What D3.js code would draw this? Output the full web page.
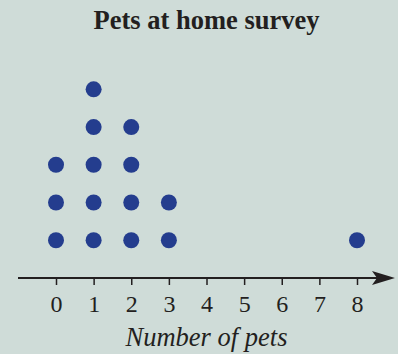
<!DOCTYPE html>
<html><head><meta charset="utf-8">
<script src="https://cdn.jsdelivr.net/npm/d3@7"></script>
<style>
html,body{margin:0;padding:0;background:#cfdcd8;}
svg{display:block;}
text{font-family:'Liberation Serif','Times New Roman',Times,serif;}
</style></head>
<body>
<script>
const title = "Pets at home survey";
const axisTitle = "Number of pets";
const petValues = [0,1,2,3,4,5,6,7,8];
const counts = [3,5,4,2,0,0,0,0,1];

const W = 398, H = 354;
const serif = "'Liberation Serif','Times New Roman',Times,serif";
const svg = d3.select("body").append("svg").attr("width", W).attr("height", H);
svg.append("rect").attr("width", W).attr("height", H).attr("fill", "#cfdcd8");

const x = d3.scaleLinear().domain([0, 8]).range([56, 357]);
const y = d3.scaleLinear().domain([0, 5]).range([278, 89.3]);
const ink = "#231f20";

svg.append("text").attr("x", 206.5).attr("y", 29).attr("text-anchor", "middle")
  .style("font-family", serif).attr("font-weight", "bold")
  .attr("font-size", 26.5).attr("fill", ink).text(title);

// axis
const axis = d3.axisBottom(x).tickValues(petValues).tickSize(7).tickPadding(10).tickFormat(d3.format("d"));
const g = svg.append("g").attr("transform", `translate(0,${y(0)})`).call(axis);
g.select(".domain").remove();
g.selectAll(".tick line").attr("stroke", ink).attr("stroke-width", 1.5);
g.attr("font-family", null);
g.selectAll(".tick text").style("font-family", serif)
  .attr("font-size", 24).attr("fill", ink);

svg.append("line").attr("x1", 18).attr("x2", 380).attr("y1", y(0)).attr("y2", y(0))
  .attr("stroke", ink).attr("stroke-width", 1.8);
svg.append("path").attr("d", `M395,${y(0)} L372,${y(0)-7} L377,${y(0)} L372,${y(0)+7} Z`).attr("fill", ink);

// dots
const dots = [];
petValues.forEach((v, i) => { for (let k = 1; k <= counts[i]; k++) dots.push({v, k}); });
svg.append("g").selectAll("circle").data(dots).join("circle")
  .attr("cx", d => x(d.v)).attr("cy", d => y(d.k)).attr("r", 8).attr("fill", "#243d8e");

svg.append("text").attr("x", 206.5).attr("y", 346).attr("text-anchor", "middle")
  .style("font-family", serif).attr("font-style", "italic")
  .attr("font-size", 26.5).attr("fill", ink).text(axisTitle);
</script>
</body></html>
